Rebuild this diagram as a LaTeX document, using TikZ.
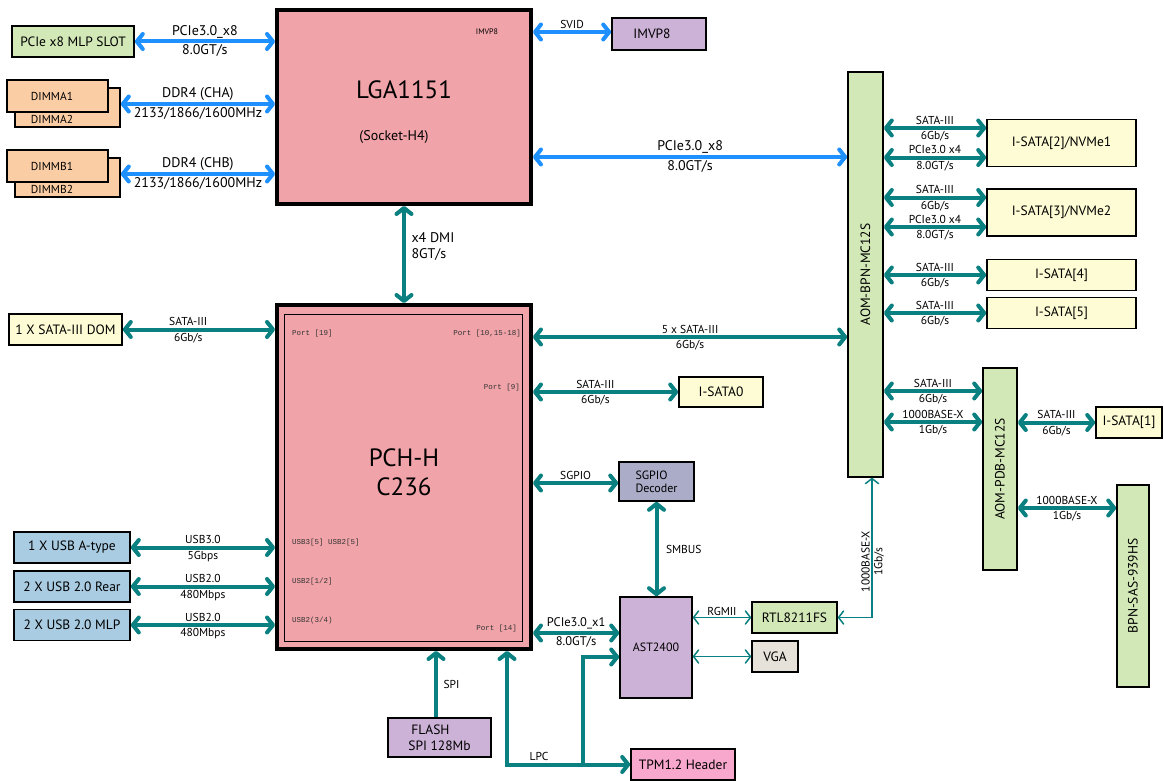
\documentclass[tikz,border=0pt]{standalone}
\usepackage{fontspec}
\setmainfont{PT Sans}
\setmonofont{Liberation Mono}
\usepackage{tikz}
\usetikzlibrary{arrows.meta, calc}
\definecolor{chippink}{RGB}{240,163,168}
\definecolor{slotgreen}{RGB}{211,232,183}
\definecolor{paleyellow}{RGB}{254,252,212}
\definecolor{dimmorange}{RGB}{250,205,165}
\definecolor{vrpurple}{RGB}{204,178,214}
\definecolor{decoderblue}{RGB}{170,172,200}
\definecolor{usbblue}{RGB}{169,204,227}
\definecolor{vgagray}{RGB}{230,226,218}
\definecolor{tpmpink}{RGB}{247,168,204}
\definecolor{busteal}{RGB}{10,128,128}
\definecolor{pcieblue}{RGB}{30,144,255}

\begin{document}
\begin{tikzpicture}[x=1pt, y=-1pt,
  box/.style={draw, line width=1.6pt, inner sep=2pt, align=center, font=\fontsize{13.5}{15}\selectfont},
  sz/.style 2 args={minimum width=#1pt, minimum height=#2pt},
  chip/.style={draw, line width=4pt, fill=chippink},
  bus/.style={line width=4pt, draw=busteal, >={Straight Barb[round, length=6pt, width=15pt]}},
  bluebus/.style={bus, draw=pcieblue},
  thinbus/.style={line width=1.5pt, draw=busteal, >={Straight Barb[round, length=5pt, width=13pt]}},
  lbl/.style={font=\fontsize{11.5}{13}\selectfont, inner sep=1.5pt},
  biglbl/.style={font=\fontsize{14}{16}\selectfont, inner sep=1.5pt},
  port/.style={font=\fontsize{7.5}{8}\ttfamily, text=black!80, inner sep=0pt},
  vlabel/.style={rotate=90, font=\fontsize{13.5}{15}\selectfont}]
  \path[use as bounding box, fill=white] (0,0) rectangle (1164,781);

  % CPU and PCH
  \node[chip, sz={254}{194}] (lga) at (404,107) {};
  \node[font=\fontsize{25}{28}\selectfont] (lganame) at (404,90) {LGA1151};
  \node[font=\fontsize{14}{16}\selectfont] (socket) at (394,137) {(Socket-H4)};
  \node[font=\fontsize{8}{9}\selectfont] (imvppin) at (487,32) {IMVP8};
  \node[chip, sz={254}{344}] (pch) at (404,477) {};
  \node[draw, line width=1pt, sz={238}{327}] (pchcore) at (403,477.5) {};
  \node[font=\fontsize{25}{29}\selectfont, align=center] (pchname) at (404,472.5) {PCH-H\\C236};
  \foreach \n/\x/\y/\a/\t in {p19/292/334/west/{Port [19]}, p10/521/334/east/{Port [10,15-18]},
      p9/520/388/east/{Port [9]}, usb35/292/543/west/{USB3[5] USB2[5]},
      usb12/292/582/west/{USB2[1/2]}, usb34/292/621/west/{USB2(3/4)}, p14/517/629/east/{Port [14]}}
    \node[port, anchor=\a] (\n) at (\x,\y) {\t};

  % left side
  \node[box, fill=slotgreen, sz={122}{31}] (slot) at (73,41.5) {PCIe x8 MLP SLOT};
  \draw[bluebus, <->] (slot.east) -- (slot.east -| lga.west)
    node[biglbl, above, midway] {PCIe3.0\_x8} node[biglbl, below, midway] {8.0GT/s};
  \foreach \c/\C/\d in {a/A/0, b/B/70} {
    \node[box, fill=dimmorange, sz={105}{39}] (dimm\c2) at (67.5,107.5+\d) {};
    \node[box, fill=dimmorange, sz={101}{32}] (dimm\c1) at (57.5,96+\d) {};
    \node[font=\fontsize{11.5}{12}\selectfont] (dimm\c1txt) at (52,96+\d) {DIMM\C1};
    \node[font=\fontsize{11.5}{12}\selectfont] (dimm\c2txt) at (52,119+\d) {DIMM\C2};
    \draw[bluebus, <->] (dimm\c2.east |- 0,104+\d) -- (lga.west |- 0,104+\d)
      node[biglbl, above, midway] {DDR4 (CH\C)} node[biglbl, below, midway] {2133/1866/1600MHz};
  }
  \node[box, fill=paleyellow, sz={113}{31}] (dom) at (65.5,329.5) {1 X SATA-III DOM};
  \draw[bus, <->] (dom.east) -- (dom.east -| pch.west)
    node[lbl, above, pos=0.43] {SATA-III} node[lbl, below, pos=0.43] {6Gb/s};
  \foreach \n/\y/\t/\a/\b in {usba/547.5/1 X USB A-type/USB3.0/5Gbps,
      usbrear/586.5/2 X USB 2.0 Rear/USB2.0/480Mbps, usbmlp/625/2 X USB 2.0 MLP/USB2.0/480Mbps} {
    \node[box, fill=usbblue, sz={116}{31}] (\n) at (72,\y) {\t};
    \draw[bus, <->] (\n.east) -- (\n.east -| pch.west)
      node[lbl, above, midway] {\a} node[lbl, below, midway] {\b};
  }

  % CPU links
  \node[box, fill=vrpurple, sz={94}{32}] (imvp) at (659,34) {IMVP8\hspace{14pt}};
  \draw[bluebus, <->] (lga.east |- 0,32) -- (imvp.west |- 0,32) node[lbl, above, midway] {SVID};
  \draw[bus, <->] (lga.south) -- (pch.north)
    node[biglbl, right, pos=0.42, xshift=4pt, align=left] {x4 DMI\\8GT/s};

  % backplane modules
  \node[box, fill=slotgreen, sz={35}{405}, label={[vlabel]center:AOM-BPN-MC12S}] (aombpn) at (865.5,274.5) {};
  \node[box, fill=slotgreen, sz={34}{202}, label={[vlabel]center:AOM-PDB-MC12S}] (aompdb) at (1000,469) {};
  \node[box, fill=slotgreen, sz={32}{202}, label={[vlabel]center:BPN-SAS-939HS}] (bpnsas) at (1133,586) {};
  \draw[bluebus, <->] (lga.east |- 0,157) -- (aombpn.west |- 0,157)
    node[biglbl, above, midway] {PCIe3.0\_x8} node[biglbl, below, midway] {8.0GT/s};
  \draw[bus, <->] (pch.east |- 0,337) -- (aombpn.west |- 0,337)
    node[lbl, above, midway] {5 x SATA-III} node[lbl, below, midway] {6Gb/s};
  \foreach \n/\y/\k/\m in {isata2/143/2/1, isata3/212.5/3/2} {
    \node[box, fill=paleyellow, sz={149}{47}] (\n) at (1061.5,\y) {I-SATA[\k]/NVMe\m};
    \draw[bus, <->] (aombpn.east |- 0,\y-15) -- (\n.west |- 0,\y-15)
      node[lbl, above, midway] {SATA-III} node[lbl, below, midway] {6Gb/s};
    \draw[bus, <->] (aombpn.east |- 0,\y+14.5) -- (\n.west |- 0,\y+14.5)
      node[lbl, above, midway] {PCIe3.0 x4} node[lbl, below, midway] {8.0GT/s};
  }
  \foreach \n/\y/\k in {isata4/275/4, isata5/313/5} {
    \node[box, fill=paleyellow, sz={149}{31}] (\n) at (1061.5,\y) {I-SATA[\k]};
    \draw[bus, <->] (aombpn.east |- \n.west) -- (\n.west)
      node[lbl, above, midway] {SATA-III} node[lbl, below, midway] {6Gb/s};
  }
  \node[box, fill=paleyellow, sz={66}{31}] (isata1) at (1129,422.5) {I-SATA[1]};
  \draw[bus, <->] (aombpn.east |- 0,391) -- (aompdb.west |- 0,391)
    node[lbl, above, midway] {SATA-III} node[lbl, below, midway] {6Gb/s};
  \draw[bus, <->] (aombpn.east |- 0,422) -- (aompdb.west |- 0,422)
    node[lbl, above, midway] {1000BASE-X} node[lbl, below, midway] {1Gb/s};
  \draw[bus, <->] (aompdb.east |- isata1.west) -- (isata1.west)
    node[lbl, above, midway] {SATA-III} node[lbl, below, midway] {6Gb/s};
  \draw[bus, <->] (aompdb.east |- 0,508) -- (bpnsas.west |- 0,508)
    node[lbl, above, midway] {1000BASE-X} node[lbl, below, midway] {1Gb/s};

  % PCH peripherals
  \node[box, fill=paleyellow, sz={84}{30}] (isata0) at (721,392) {I-SATA0};
  \draw[bus, <->] (pch.east |- isata0.west) -- (isata0.west)
    node[lbl, above, pos=0.43] {SATA-III} node[lbl, below, pos=0.43] {6Gb/s};
  \node[box, fill=decoderblue, sz={75}{39}, align=left, font=\fontsize{12}{13}\selectfont] (sgpio) at (656.5,481.5) {SGPIO\\Decoder};
  \draw[bus, <->] (pch.east |- 0,483) -- (sgpio.west |- 0,483) node[lbl, above, midway] {SGPIO};
  \node[box, fill=vrpurple, sz={72}{101}, font=\fontsize{12}{14}\selectfont] (ast) at (656,647.5) {AST2400};
  \draw[bus, <->] (sgpio.south) -- (sgpio.south |- ast.north)
    node[lbl, right, midway, xshift=6pt] {SMBUS};
  \draw[bus, <->] (pch.east |- 0,633) -- (ast.west |- 0,633)
    node[lbl, above, midway, font=\fontsize{12.5}{14}\selectfont] {PCIe3.0\_x1}
    node[lbl, below, midway, font=\fontsize{12.5}{14}\selectfont] {8.0GT/s};
  \node[box, fill=slotgreen, sz={85}{31}] (rtl) at (794.5,617.5) {RTL8211FS};
  \node[box, fill=vgagray, sz={46}{31}] (vga) at (775,656.5) {VGA};
  \draw[thinbus, <->] (ast.east |- rtl.west) -- (rtl.west) node[lbl, above, midway] {RGMII};
  \draw[thinbus, <->] (ast.east |- vga.west) -- (vga.west);
  \draw[thinbus, <->] (aombpn.south -| 872,0) |- (rtl.east)
    node[lbl, pos=0.3, rotate=90, anchor=south] {1000BASE-X}
    node[lbl, pos=0.3, rotate=90, anchor=north] {1Gb/s};
  \node[box, fill=vrpurple, sz={103}{39}, align=left, font=\fontsize{13.5}{16}\selectfont] (flash) at (439.5,737.5) {\hspace{3pt}FLASH\\SPI 128Mb};
  \draw[bus, ->] (flash.north -| 436,0) -- (pch.south -| 436,0) node[lbl, right, midway, xshift=4pt] {SPI};
  \node[box, fill=tpmpink, sz={104}{31}] (tpm) at (683,764.5) {TPM1.2 Header};
  \draw[bus, <->] (pch.south -| 507,0) |- (tpm.west) node[lbl, above, pos=0.63] {LPC};
  \coordinate (lpcsplit) at (tpm.west -| 583,0);
  \draw[bus, ->] (lpcsplit) |- (ast.west |- 0,657);
\end{tikzpicture}
\end{document}
